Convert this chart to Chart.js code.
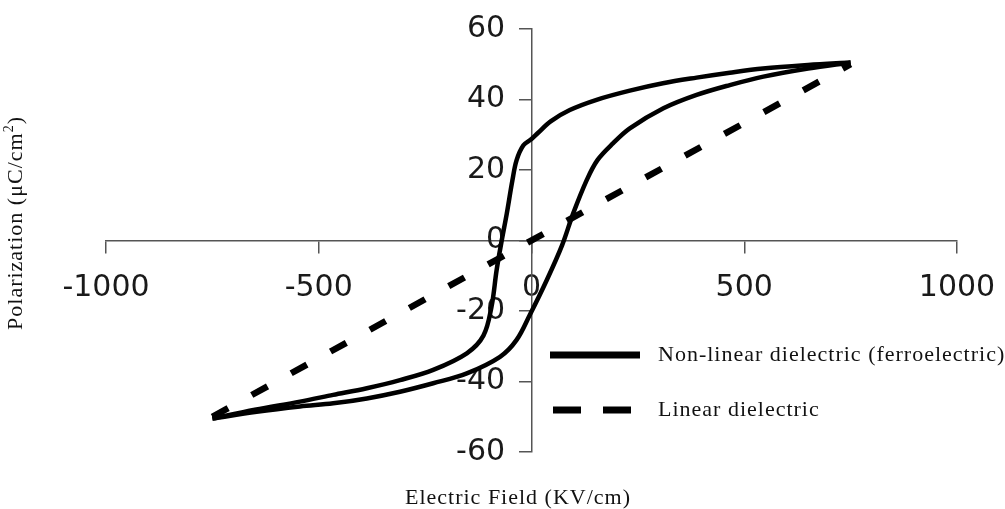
<!DOCTYPE html>
<html>
<head>
<meta charset="utf-8">
<script src="https://cdn.jsdelivr.net/npm/chart.js@4"></script>
<style>
  html, body { margin: 0; padding: 0; background: #fff; }
  #wrap { width: 1005px; height: 509px; position: relative; }
</style>
</head>
<body>
<div id="wrap"><canvas id="myChart"></canvas></div>
<script>
// hysteresis loop, upper branch (field going down) and lower branch (field going up)
const upperField = [750, 650, 544, 466, 388, 309, 231, 153, 90, 45, 15, 0, -19, -35, -45, -58, -70, -82, -94, -113, -152, -231, -309, -387, -466, -544, -650, -750];
const upperPol = [50.5, 49.8, 48.8, 47.6, 46.2, 44.6, 42.5, 39.9, 37, 33.8, 30.5, 28.8, 27, 22.8, 17, 7.7, 0, -8.4, -18.8, -27, -32, -36.7, -39.6, -41.9, -43.8, -45.7, -48, -50.5];
const lowerField = [-750, -646, -544, -466, -387, -309, -231, -152, -74, -35, -3.5, 36, 72, 98, 130, 155, 192, 231, 310, 388, 466, 545, 650, 750];
const lowerPol = [-50.5, -48.6, -47.1, -46.2, -44.8, -42.9, -40.5, -37.7, -33, -28.2, -21, -11.2, -1.3, 7.7, 17.2, 22.8, 27.6, 31.8, 37.5, 41.3, 44.1, 46.5, 48.8, 50.5];
const linearField = [-750, 750];
const linearPol = [-50, 50];

const xTicks = [-1000, -500, 0, 500, 1000];
const yTicks = [-60, -40, -20, 0, 20, 40, 60];
const seriesNames = ['Non-linear dielectric (ferroelectric)', 'Linear dielectric'];
const xTitle = 'Electric Field (KV/cm)';
const yTitle = 'Polarization (\u03bcC/cm';

const toPoints = (xs, ys) => xs.map((x, i) => ({ x: x, y: ys[i] }));

const axisColor = '#555';
const tickFont = { family: 'DejaVu Sans', size: 30 };
const serif = '22px "Liberation Serif"';

const axisTitles = {
  id: 'axisTitles',
  afterDraw(chart) {
    const ctx = chart.ctx;
    ctx.save();
    ctx.letterSpacing = '1px';
    ctx.fillStyle = '#111';
    ctx.font = serif;
    ctx.textBaseline = 'alphabetic';
    ctx.textAlign = 'center';
    ctx.fillText(xTitle, 518, 504);

    // rotated y title with superscript
    ctx.translate(22, 223);
    ctx.rotate(-Math.PI / 2);
    ctx.textAlign = 'left';
    const w1 = ctx.measureText(yTitle).width;
    ctx.font = '14px "Liberation Serif"';
    const w2 = ctx.measureText('2').width;
    ctx.font = serif;
    const w3 = ctx.measureText(')').width;
    const start = -(w1 + w2 + w3) / 2;
    ctx.fillText(yTitle, start, 0);
    ctx.font = '14px "Liberation Serif"';
    ctx.fillText('2', start + w1, -9);
    ctx.font = serif;
    ctx.fillText(')', start + w1 + w2, 0);
    ctx.restore();
  }
};

const sideLegend = {
  id: 'sideLegend',
  afterDraw(chart) {
    const ctx = chart.ctx;
    const rows = [
      { ds: chart.data.datasets[0], y: 355, x1: 550, x2: 640 },
      { ds: chart.data.datasets[2], y: 410, x1: 553, x2: 632 }
    ];
    ctx.save();
    ctx.letterSpacing = '1px';
    rows.forEach((r, i) => {
      ctx.beginPath();
      ctx.strokeStyle = r.ds.borderColor;
      ctx.lineWidth = 7;
      ctx.setLineDash(i === 1 ? [28, 22] : []);
      ctx.moveTo(r.x1, r.y);
      ctx.lineTo(r.x2, r.y);
      ctx.stroke();
      ctx.fillStyle = '#111';
      ctx.font = serif;
      ctx.textBaseline = 'middle';
      ctx.fillText(seriesNames[i], 658, r.y);
    });
    ctx.restore();
  }
};

const setTicks = (list) => (scale) => { scale.ticks = list.map(v => ({ value: v })); };

const config = {
  type: 'scatter',
  data: {
    datasets: [
      {
        label: seriesNames[0],
        data: toPoints(upperField, upperPol),
        showLine: true,
        borderColor: '#000',
        borderWidth: 4.5,
        pointRadius: 0,
        tension: 0.35
      },
      {
        label: seriesNames[0],
        data: toPoints(lowerField, lowerPol),
        showLine: true,
        borderColor: '#000',
        borderWidth: 4.5,
        pointRadius: 0,
        tension: 0.35
      },
      {
        label: seriesNames[1],
        data: toPoints(linearField, linearPol),
        showLine: true,
        borderColor: '#000',
        borderWidth: 6.5,
        borderDash: [18, 27],
        pointRadius: 0
      }
    ]
  },
  options: {
    responsive: true,
    maintainAspectRatio: false,
    animation: false,
    layout: { padding: { left: 106, right: 48, top: 29, bottom: 57 } },
    plugins: {
      legend: { display: false },
      tooltip: { enabled: false }
    },
    scales: {
      x: {
        type: 'linear',
        position: { y: 0 },
        min: -1000,
        max: 1000,
        afterBuildTicks: setTicks(xTicks),
        afterFit: (scale) => { scale.height = 0; scale.paddingLeft = 0; scale.paddingRight = 0; },
        border: { color: axisColor, width: 1.5 },
        grid: { drawOnChartArea: false, drawTicks: true, tickLength: 12, color: axisColor, lineWidth: 1.5 },
        ticks: { font: tickFont, color: '#1a1a1a', padding: 18, maxRotation: 0, callback: (v) => String(v) }
      },
      y: {
        type: 'linear',
        position: { x: 0 },
        min: -60,
        max: 60,
        afterBuildTicks: setTicks(yTicks),
        afterFit: (scale) => { scale.width = 0; scale.paddingTop = 0; scale.paddingBottom = 0; },
        border: { color: axisColor, width: 1.5 },
        grid: { drawOnChartArea: false, drawTicks: true, tickLength: 12, color: axisColor, lineWidth: 1.5 },
        ticks: { display: false }
      },
      // label-only copy of the y axis, shifted left of the axis line
      yLabels: {
        type: 'linear',
        axis: 'y',
        position: { x: -62 },
        min: -60,
        max: 60,
        afterBuildTicks: setTicks(yTicks),
        afterFit: (scale) => { scale.width = 0; scale.paddingTop = 0; scale.paddingBottom = 0; },
        border: { display: false },
        grid: { display: false },
        ticks: { font: tickFont, color: '#1a1a1a', padding: 0, callback: (v) => String(v) }
      }
    }
  },
  plugins: [axisTitles, sideLegend]
};

new Chart(document.getElementById('myChart'), config);
</script>
</body>
</html>
